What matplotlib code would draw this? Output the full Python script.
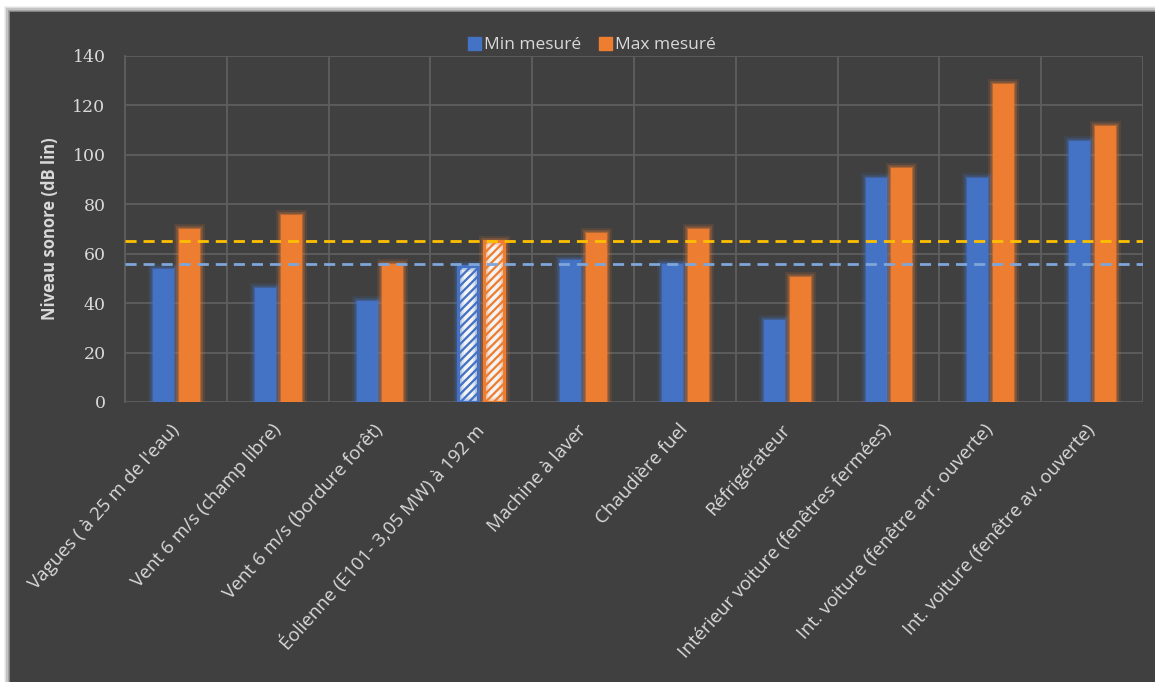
import matplotlib
matplotlib.use("Agg")
import matplotlib.pyplot as plt
import matplotlib.patheffects as pe
from matplotlib.patches import Rectangle
import numpy as np

categories = [
    "Vagues ( à 25 m de l'eau)",
    "Vent 6 m/s (champ libre)",
    "Vent 6 m/s (bordure forêt)",
    "Éolienne (E101- 3,05 MW) à 192 m",
    "Machine à laver",
    "Chaudière fuel",
    "Réfrigérateur",
    "Intérieur voiture (fenêtres fermées)",
    "Int. voiture (fenêtre arr. ouverte)",
    "Int. voiture (fenêtre av. ouverte)",
]
min_mesure = [54, 46, 41, 55, 57.5, 56, 33, 90.5, 90.5, 105.5]
max_mesure = [70, 75.5, 56, 65, 68.5, 70, 50.5, 94.5, 128.5, 111.5]
hatched_index = 3
ref_line_yellow = 65
ref_line_blue = 55.7
y_ticks = [0, 20, 40, 60, 80, 100, 120, 140]
series_names = ["Min mesuré", "Max mesuré"]

BLUE = "#4472C4"
ORANGE = "#ED7D31"
BG = "#404040"
TXT = "#D9D9D9"
GRID = "#5E5E5E"

W, H = 1155, 682
fig = plt.figure(figsize=(W / 100, H / 100), dpi=100)
fig.patch.set_facecolor("white")

# shadow + dark panel
for i, a in enumerate([0.05, 0.08, 0.12, 0.16, 0.2]):
    o = (5 - i) * 1.2
    fig.patches.append(Rectangle(((10 - o) / W, 0), 1, 1 - (12 - o) / H,
                                 transform=fig.transFigure, facecolor="black",
                                 alpha=a, edgecolor="none", zorder=-5))
fig.patches.append(Rectangle((10 / W, 0), 1, 1 - 12 / H, transform=fig.transFigure,
                             facecolor=BG, edgecolor="none", zorder=-4))

ax = fig.add_axes([125 / W, 1 - 402 / H, (1143 - 125) / W, (402 - 56) / H])
ax.set_facecolor("none")

x = np.arange(len(categories))
bw = 0.196
off = 0.126

def glow(color):
    return [pe.withStroke(linewidth=8, foreground=color, alpha=0.12),
            pe.withStroke(linewidth=5, foreground=color, alpha=0.22),
            pe.withStroke(linewidth=2.5, foreground=color, alpha=0.5),
            pe.Normal()]

plt.rcParams["hatch.linewidth"] = 2.6
for i in range(len(categories)):
    for val, dx, col in [(min_mesure[i], -off, BLUE), (max_mesure[i], off, ORANGE)]:
        if i == hatched_index:
            ax.bar(x[i] + dx, val, width=bw, color=col, edgecolor="#F4F4F4",
                   hatch="////", linewidth=0, zorder=3)
            b = ax.bar(x[i] + dx, val, width=bw, fill=False, edgecolor=col,
                       linewidth=2, zorder=4)
            for p in b:
                p.set_path_effects(glow(col))
        else:
            b = ax.bar(x[i] + dx, val, width=bw, color=col, edgecolor=col,
                       linewidth=0.5, zorder=3)
            for p in b:
                p.set_path_effects(glow(col))

ax.axhline(ref_line_yellow, color="#FFC000", linestyle=(0, (4, 2.5)), linewidth=2, zorder=5)
ax.axhline(ref_line_blue, color="#7EA6DA", linestyle=(0, (4, 2.5)), linewidth=2, zorder=5)

ax.set_xlim(-0.5, len(categories) - 0.5)
ax.set_ylim(0, 140)
ax.set_yticks(y_ticks)
ax.set_yticklabels([str(t) for t in y_ticks], fontfamily="DejaVu Serif",
                   fontsize=12.5, color=TXT)
ax.set_xticks(x)
ax.set_xticklabels(categories, rotation=48, ha="right", va="center",
                   rotation_mode="anchor", fontfamily="Open Sans",
                   fontsize=13.5, color=TXT)
ax.set_xticks(np.arange(-0.5, len(categories), 1), minor=True)
ax.tick_params(axis="x", which="major", length=0, pad=18)
ax.tick_params(axis="x", which="minor", length=0)
ax.tick_params(axis="y", length=0, pad=14)
ax.grid(True, axis="y", which="major", color=GRID, linewidth=1.3, zorder=1)
ax.grid(True, axis="x", which="minor", color=GRID, linewidth=1.3, zorder=1)
ax.grid(False, axis="x", which="major")
ax.set_axisbelow(True)
for s in ["top", "right", "bottom"]:
    ax.spines[s].set_visible(False)
ax.spines["left"].set_color(GRID)
ax.spines["left"].set_linewidth(1.3)

ax.set_ylabel("Niveau sonore (dB lin)", fontfamily="Open Sans", fontweight="bold",
              fontsize=12, color=TXT, labelpad=10)

handles = [Rectangle((0, 0), 1, 1, color=BLUE), Rectangle((0, 0), 1, 1, color=ORANGE)]
leg = fig.legend(handles, series_names, loc="center", bbox_to_anchor=(592 / W, 1 - 45 / H),
                 ncol=2, frameon=False, handlelength=0.75, handleheight=0.75,
                 handletextpad=0.2, columnspacing=1.0,
                 prop={"family": "Open Sans", "size": 12.5})
for t in leg.get_texts():
    t.set_color(TXT)

fig.savefig("out.png", dpi=100)
